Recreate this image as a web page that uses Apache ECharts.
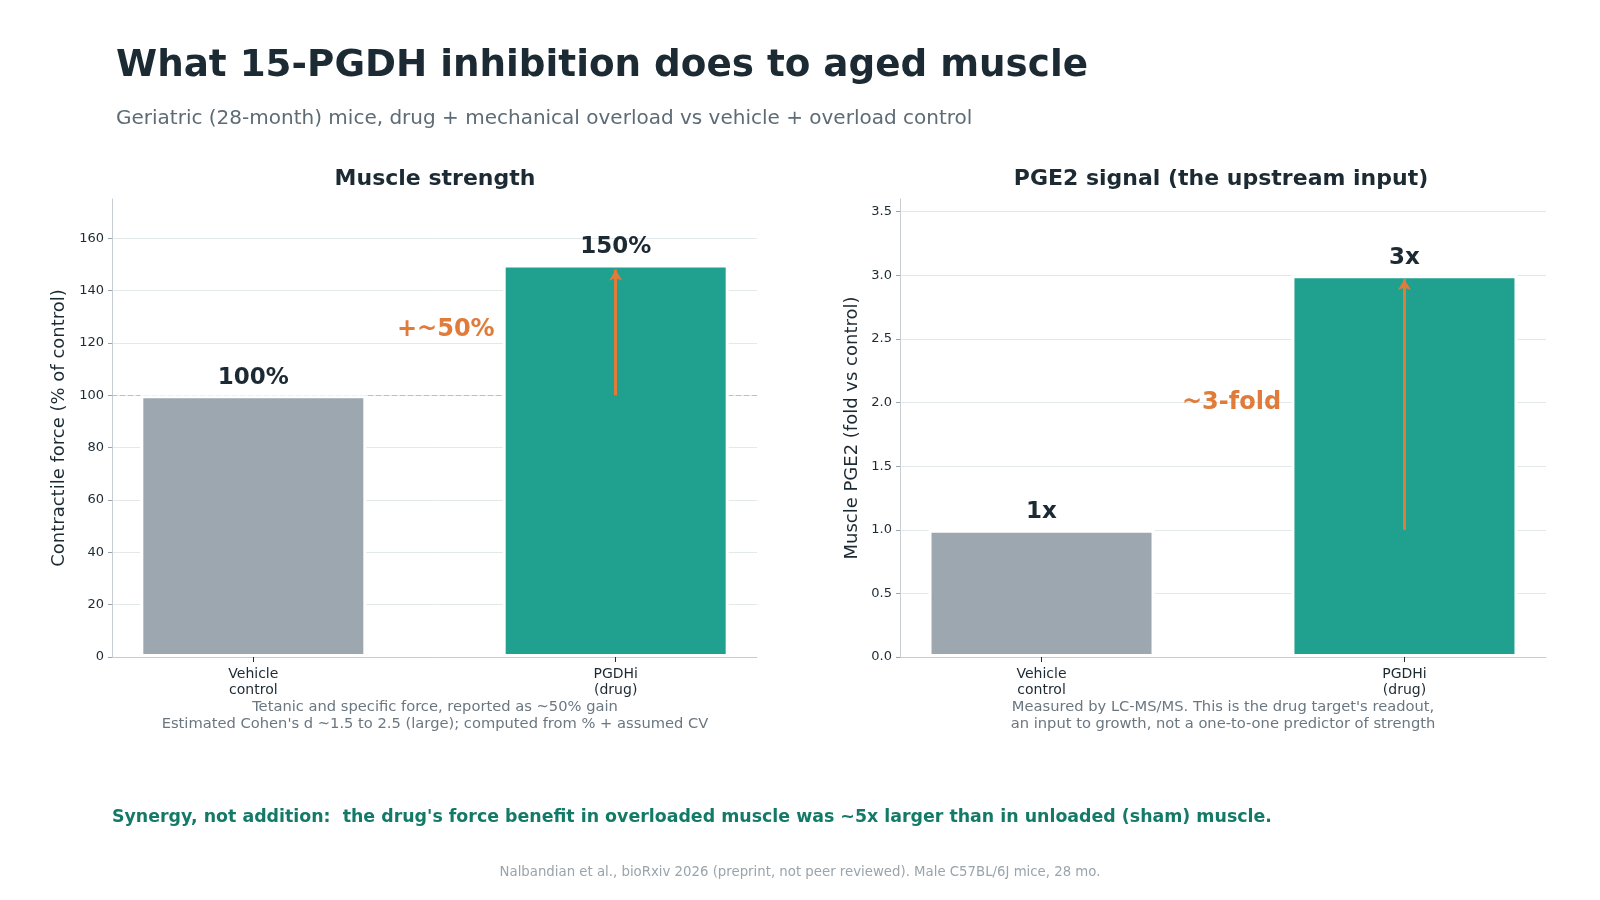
<!DOCTYPE html>
<html>
<head>
<meta charset="utf-8">
<script src="https://cdn.jsdelivr.net/npm/echarts@6/dist/echarts.min.js"></script>
<style>
  html, body { margin: 0; padding: 0; background: #fff; }
  #main { width: 1600px; height: 900px; }
</style>
</head>
<body>
<div id="main"></div>
<script>
var categories = ['Vehicle\ncontrol', 'PGDHi\n(drug)'];
var forceValues = [100, 150];
var forceLabels = ['100%', '150%'];
var pge2Values = [1, 3];
var pge2Labels = ['1x', '3x'];
var forceArrow = [100, 148];
var pge2Arrow = [1.0, 2.97];

var GRAY = '#9ca7b0', TEAL = '#20a08f', ORANGE = '#e07b39', DARK = '#1c2a33';
var FONT = 'DejaVu Sans';

var chart = echarts.init(document.getElementById('main'));

function yAxisCfg(idx, name, max, interval, fmt) {
  return {
    type: 'value', gridIndex: idx, min: 0, max: max, interval: interval,
    name: name, nameLocation: 'middle', nameGap: idx === 0 ? 44 : 39,
    nameTextStyle: { fontFamily: FONT, fontSize: 18, color: DARK },
    axisLine: { show: true, onZero: false, lineStyle: { color: '#c5cdd3' } },
    axisTick: { show: true, length: 4, lineStyle: { color: '#9aa4ab' } },
    axisLabel: { fontFamily: FONT, fontSize: 13, color: DARK, margin: 8, formatter: fmt,
      showMaxLabel: false },
    splitLine: { showMaxLine: false, lineStyle: { color: '#e3e8eb' } }
  };
}

// bars sit at x = 0 and 1 on a value axis, with margins like the original plot
function xAxisCfg(idx) {
  return {
    type: 'value', gridIndex: idx, min: -0.39, max: 1.39,
    splitLine: { show: false },
    axisLine: { onZero: false, lineStyle: { color: '#c5cdd3' } },
    axisTick: { length: 5, customValues: [0, 1], lineStyle: { color: DARK } },
    axisLabel: { fontFamily: FONT, fontSize: 14, color: DARK, lineHeight: 16, margin: 9,
      customValues: [0, 1],
      formatter: function (v) { return categories[Math.round(v)]; } }
  };
}

function barSeries(idx, values, labels) {
  return {
    type: 'bar', xAxisIndex: idx, yAxisIndex: idx, barWidth: 226, z: 3,
    data: values.map(function (v, i) {
      return { value: [i, v], itemStyle: { color: i === 0 ? GRAY : TEAL } };
    }),
    itemStyle: { borderColor: '#fff', borderWidth: 3 },
    label: {
      show: true, position: 'top', distance: 6,
      fontFamily: FONT, fontSize: 23, fontWeight: 'bold', color: DARK,
      formatter: function (p) { return labels[p.dataIndex]; }
    },
    markLine: {
      silent: true, symbol: ['none', 'arrow'], symbolSize: [10, 11],
      lineStyle: { color: ORANGE, width: 3, type: 'solid' },
      label: { show: false },
      data: [[{ coord: [1, idx === 0 ? forceArrow[0] : pge2Arrow[0]] },
              { coord: [1, idx === 0 ? forceArrow[1] : pge2Arrow[1]] }]]
    }
  };
}

var option = {
  backgroundColor: '#fff',
  animation: false,
  title: [
    { text: 'What 15-PGDH inhibition does to aged muscle', left: 111, top: 43,
      textStyle: { fontFamily: FONT, fontSize: 37.3, fontWeight: 'bold', color: DARK } },
    { text: 'Geriatric (28-month) mice, drug + mechanical overload vs vehicle + overload control',
      left: 111, top: 104, textStyle: { fontFamily: FONT, fontSize: 20, fontWeight: 'normal', color: '#5d6b75' } },
    { text: 'Muscle strength', left: 430, top: 163, textAlign: 'center',
      textStyle: { fontFamily: FONT, fontSize: 22, fontWeight: 'bold', color: DARK } },
    { text: 'PGE2 signal (the upstream input)', left: 1216, top: 163, textAlign: 'center',
      textStyle: { fontFamily: FONT, fontSize: 22, fontWeight: 'bold', color: DARK } }
  ],
  grid: [
    { left: 112, right: 843, top: 199, bottom: 243 },
    { left: 900, right: 54, top: 199, bottom: 243 }
  ],
  xAxis: [xAxisCfg(0), xAxisCfg(1)],
  yAxis: [
    yAxisCfg(0, 'Contractile force (% of control)', 175, 20, function (v) { return v; }),
    yAxisCfg(1, 'Muscle PGE2 (fold vs control)', 3.6, 0.5, function (v) { return v.toFixed(1); })
  ],
  series: [
    {
      type: 'line', xAxisIndex: 0, yAxisIndex: 0, data: [], z: 1,
      markLine: {
        silent: true, symbol: 'none', label: { show: false }, z: 1,
        lineStyle: { color: '#b8c1c7', type: [5, 3], width: 1.2 },
        data: [{ yAxis: 100 }]
      }
    },
    barSeries(0, forceValues, forceLabels),
    barSeries(1, pge2Values, pge2Labels)
  ],
  graphic: [
    { type: 'text', left: 397, top: 318, z: 100,
      style: { text: '+~50%', fontFamily: FONT, fontSize: 24, fontWeight: 'bold', fill: ORANGE } },
    { type: 'text', left: 1182, top: 391, z: 100,
      style: { text: '~3-fold', fontFamily: FONT, fontSize: 24, fontWeight: 'bold', fill: ORANGE } },
    { type: 'text', x: 435, y: 698,
      style: { text: "Tetanic and specific force, reported as ~50% gain\nEstimated Cohen's d ~1.5 to 2.5 (large); computed from % + assumed CV",
        fontFamily: FONT, fontSize: 14.7, fill: '#6b7780', align: 'center', lineHeight: 17.5 } },
    { type: 'text', x: 1223, y: 698,
      style: { text: "Measured by LC-MS/MS. This is the drug target's readout,\nan input to growth, not a one-to-one predictor of strength",
        fontFamily: FONT, fontSize: 14.7, fill: '#6b7780', align: 'center', lineHeight: 17.5 } },
    { type: 'text', left: 112, top: 809,
      style: { text: "Synergy, not addition:  the drug's force benefit in overloaded muscle was ~5x larger than in unloaded (sham) muscle.",
        fontFamily: FONT, fontSize: 17.4, fontWeight: 'bold', fill: '#147a68' } },
    { type: 'text', x: 800, y: 866,
      style: { text: 'Nalbandian et al., bioRxiv 2026 (preprint, not peer reviewed). Male C57BL/6J mice, 28 mo.',
        fontFamily: FONT, fontSize: 13.3, fill: '#9aa4ab', align: 'center' } }
  ]
};

chart.setOption(option);
</script>
</body>
</html>
